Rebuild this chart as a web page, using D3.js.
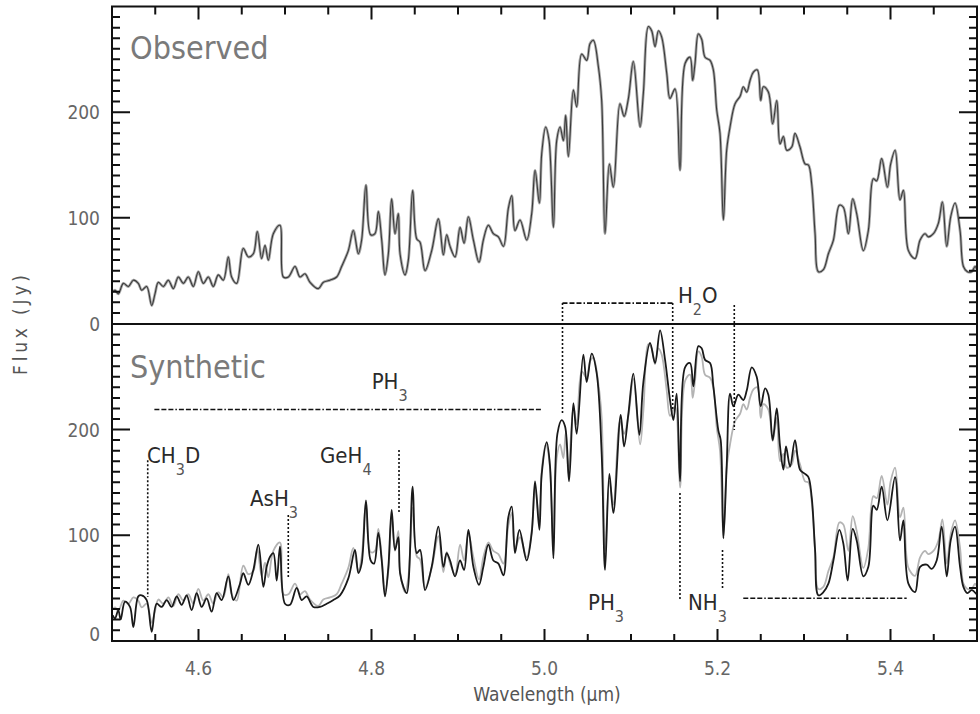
<!DOCTYPE html>
<html><head><meta charset="utf-8">
<script src="https://cdn.jsdelivr.net/npm/d3@7"></script>
<style>
html,body{margin:0;padding:0;background:#fff;}
svg text{font-family:"DejaVu Sans Condensed","DejaVu Sans",sans-serif;font-stretch:condensed;}
</style></head>
<body>
<svg id="chart" width="980" height="714"></svg>
<script>
// ---------- DATA ----------
const obsWave = [4.5010,4.5035,4.5073,4.5131,4.5189,4.5247,4.5304,4.5343,4.5401,4.5459,4.5497,4.5536,4.5593,4.5651,4.5709,4.5767,4.5825,4.5882,4.5940,4.5998,4.6056,4.6114,4.6171,4.6229,4.6287,4.6345,4.6383,4.6441,4.6518,4.6576,4.6634,4.6680,4.6730,4.6769,4.6807,4.6865,4.6942,4.6981,4.7039,4.7116,4.7173,4.7231,4.7289,4.7385,4.7443,4.7520,4.7597,4.7655,4.7732,4.7790,4.7848,4.7886,4.7936,4.7990,4.8040,4.8079,4.8118,4.8156,4.8195,4.8233,4.8272,4.8310,
4.8330,4.8388,4.8426,4.8476,4.8523,4.8561,4.8619,4.8696,4.8773,4.8831,4.8869,4.8908,4.8966,4.9024,4.9070,4.9120,4.9178,4.9243,4.9293,4.9351,4.9409,4.9467,4.9525,4.9582,4.9621,4.9659,4.9717,4.9794,4.9852,4.9891,4.9941,4.9968,5.0014,5.0053,5.0103,5.0141,5.0180,5.0218,5.0245,5.0276,5.0334,5.0372,5.0430,5.0488,5.0527,5.0565,5.0623,5.0661,5.0700,5.0750,5.0796,5.0873,5.0920,5.0970,5.1027,5.1105,5.1143,5.1201,5.1239,5.1278,5.1317,5.1355,5.1413,5.1451,5.1509,5.1567,
5.1625,5.1683,5.1713,5.1740,5.1779,5.1817,5.1856,5.1914,5.1952,5.1991,5.2029,5.2068,5.2106,5.2145,5.2203,5.2261,5.2299,5.2338,5.2376,5.2415,5.2461,5.2500,5.2530,5.2588,5.2638,5.2685,5.2723,5.2762,5.2800,5.2858,5.2896,5.2954,5.3012,5.3051,5.3089,5.3128,5.3166,5.3224,5.3282,5.3340,5.3409,5.3455,5.3513,5.3563,5.3609,5.3686,5.3744,5.3802,5.3841,5.3898,5.3964,5.4002,5.4053,5.4110,5.4149,5.4207,5.4284,5.4342,5.4399,5.4438,5.4496,5.4554,5.4600,5.4650,5.4696,5.4746,5.4804,5.4843,5.4889,5.4939,5.4977,5.4995];
const obsFlux = [30,31.5,28,38,35,41,38,31.5,35,17,28,39,35,41,33,44,38,44,35,49,38,44,35,46,41,63,44,38,71,63,66,87,61.5,74,60,85,93,44,44,54,44,47,39,33,39,41,44,54,69,88,66,79,131,84,85,106,79,46,66,118,85,104,
66,46,60,126,80,77,50,69,99,65,84,73,63,91,76,101,79,58,79,93,85,82,73,109,121,88,98,79,104,145,114,161,186,173,91,173,186,173,197,158,221,205,255,249,265,268,243,211,85,151,129,208,196,213,248,186,218,281,277,262,277,271,237,213,222,145,
246,252,230,246,274,269,252,249,240,202,180,98,164,186,208,215,224,219,230,238,240,211,224,219,189,211,170,177,164,167,180,167,151,150,132,85,49,51,66,79,112,110,85,118,104,69,88,137,135,156,129,151,164,117,126,69,61.5,79,85,82,85,95,115,73,101,114,88,54,49,49,54,52];

const synWave = [4.5010,4.5035,4.5073,4.5100,4.5150,4.5208,4.5247,4.5304,4.5343,4.5401,4.5459,4.5516,4.5574,4.5632,4.5690,4.5748,4.5805,4.5863,4.5921,4.5979,4.6037,4.6094,4.6152,4.6210,4.6268,4.6345,4.6403,4.6480,4.6518,4.6576,4.6634,4.6692,4.6750,4.6788,4.6827,4.6865,4.6904,4.6942,4.7000,4.7058,4.7135,4.7193,4.7250,4.7328,4.7405,4.7482,4.7559,4.7636,4.7732,4.7809,4.7848,4.7886,4.7936,4.7990,4.8029,4.8079,4.8118,4.8156,4.8195,4.8233,4.8272,4.8310,
4.8330,4.8369,4.8407,4.8476,4.8523,4.8561,4.8619,4.8696,4.8773,4.8831,4.8869,4.8908,4.8966,4.9024,4.9070,4.9120,4.9178,4.9243,4.9293,4.9351,4.9409,4.9467,4.9525,4.9582,4.9621,4.9659,4.9710,4.9794,4.9852,4.9891,4.9941,4.9968,5.0026,5.0064,5.0103,5.0149,5.0199,5.0238,5.0284,5.0334,5.0372,5.0449,5.0488,5.0546,5.0604,5.0661,5.0700,5.0750,5.0796,5.0881,5.0920,5.0970,5.1027,5.1097,5.1143,5.1220,5.1278,5.1336,5.1394,5.1451,5.1490,5.1528,5.1567,5.1625,5.1683,5.1721,
5.1779,5.1817,5.1856,5.1914,5.1952,5.2010,5.2037,5.2068,5.2106,5.2145,5.2184,5.2241,5.2299,5.2338,5.2396,5.2453,5.2500,5.2550,5.2588,5.2638,5.2685,5.2723,5.2762,5.2792,5.2839,5.2896,5.2954,5.3012,5.3051,5.3089,5.3128,5.3166,5.3224,5.3282,5.3340,5.3409,5.3455,5.3505,5.3563,5.3609,5.3686,5.3744,5.3802,5.3841,5.3898,5.3964,5.4053,5.4110,5.4149,5.4207,5.4284,5.4342,5.4419,5.4476,5.4534,5.4592,5.4650,5.4696,5.4746,5.4804,5.4843,5.4889,5.4939,5.4995];
const synFlux = [24,21,29,20,37,32,13,42,43,38.5,8.5,35,32,38.5,32,42,34,43,29,45,32,40,27.5,45,38.5,61,38.5,54,64,53,67,91,51,70,79.5,83,57,89,35,34,50,38.5,42,32,32,35,38.5,43,59,86,64,73,133,76,73,102,76,42,70,124,86,98,
64,51,45,146,83,86,48,70,108,70,83,76,61,76,67,105,70,53,70,91,76,73,62,117,127,83,105,76,102,151,105,158,188,165,78,196,209,203,151,225,196,271,245,272,253,177,67,158,121,214,184,215,253,195,245,282,263,294,266,228,209,234,151,259,263,241,
279,277,266,263,241,199,190,97,165,234,222,233,228,237,259,250,222,239,233,190,220,184,162,184,165,190,162,158,155,136,86,43,46,54,76,105,92,57,106,95,61,70,128,124,146,114,155,95,114,54,46,70,72,68,76,108,61,95,108,70,51,45,48,44];

const xTickLabels = ["4.6","4.8","5.0","5.2","5.4"];
const xMajorTicks = [4.6,4.8,5.0,5.2,5.4];
const yMajorTicks = [0,100,200];
const yTickLabels = ["0","100","200"];
const panelNames = ["Observed","Synthetic"];

// annotation labels: text parts ("s" = subscript), wavelength of left edge, baseline flux (synthetic-panel units)
const annoText = [
  [["CH",""],["3","s"],["D",""]],
  [["AsH",""],["3","s"]],
  [["GeH",""],["4","s"]],
  [["PH",""],["3","s"]],
  [["H",""],["2","s"],["O",""]],
  [["PH",""],["3","s"]],
  [["NH",""],["3","s"]]
];
const annoWave = [4.5405, 4.6596, 4.7405, 4.8002, 5.1543, 5.0503, 5.1659];
const annoFlux = [168, 128, 168, 238, 320, 29, 29];

// marker lines
const lineW1 = [4.5413, 4.7038, 4.8318, 4.5490, 5.0208, 5.0208, 5.1482, 5.2194, 5.1566, 5.2058, 5.2298];
const lineF1 = [171, 119, 180.6, 219, 215.6, 319.8, 319.8, 317.9, 139.9, 85.9, 40.2];
const lineW2 = [4.5413, 4.7038, 4.8318, 4.9980, 5.0208, 5.1482, 5.1482, 5.2194, 5.1566, 5.2058, 5.4187];
const lineF2 = [41.4, 59.4, 121, 219, 319.8, 319.8, 218.5, 199.5, 38.5, 48, 40.2];
const lineKind = ["dot","dot","dot","dashdot","dot","dashdot","dot","dot","dot","dot","dashdot"];

// ---------- LAYOUT ----------
const L = 112, R = 977, T = 6.5, M = 324, B = 641;
const svg = d3.select("#chart");
const x = d3.scaleLinear().domain([4.5, 5.5]).range([L, R]);
const yTop = d3.scaleLinear().domain([0, 300]).range([M - 0.5, T]);
const yBot = d3.scaleLinear().domain([0, 300]).range([B - 0.3, M]);

const defs = svg.append("defs");
defs.append("clipPath").attr("id","clipTop").append("rect").attr("x",L).attr("y",T).attr("width",R-L).attr("height",M-T);
defs.append("clipPath").attr("id","clipBot").append("rect").attr("x",L).attr("y",M).attr("width",R-L).attr("height",B-M);

const obs = obsWave.map((w,i)=>[w,obsFlux[i]]);
const syn = synWave.map((w,i)=>[w,synFlux[i]]);

const curve = d3.curveCatmullRom.alpha(0.5);
const lineTop = d3.line().curve(curve).x(d=>x(d[0])).y(d=>yTop(d[1]));
const lineBot = d3.line().curve(curve).x(d=>x(d[0])).y(d=>yBot(d[1]));
svg.append("path").datum(obs).attr("clip-path","url(#clipTop)").attr("d",lineTop)
   .attr("fill","none").attr("stroke","#a8a8a8").attr("stroke-width",2.8).attr("stroke-linejoin","round");
svg.append("path").datum(obs).attr("clip-path","url(#clipTop)").attr("d",lineTop)
   .attr("fill","none").attr("stroke","#3a3a3a").attr("stroke-width",1.1).attr("stroke-linejoin","round");
svg.append("path").datum(obs).attr("clip-path","url(#clipBot)").attr("d",lineBot)
   .attr("fill","none").attr("stroke","#b4b4b4").attr("stroke-width",1.8).attr("stroke-linejoin","round");
svg.append("path").datum(syn).attr("clip-path","url(#clipBot)").attr("d",lineBot)
   .attr("fill","none").attr("stroke","#1a1a1a").attr("stroke-width",1.8).attr("stroke-linejoin","round");

lineW1.forEach((w,i)=>{
  svg.append("line")
    .attr("x1",x(w)).attr("y1",yBot(lineF1[i]))
    .attr("x2",x(lineW2[i])).attr("y2",yBot(lineF2[i]))
    .attr("stroke","#111").attr("stroke-width",1.6)
    .attr("stroke-dasharray", lineKind[i]==="dot" ? "2,2" : "5,2,5,2,5,2,1.5,2");
});

annoText.forEach((parts,i)=>{
  const t = svg.append("text").attr("x",x(annoWave[i])).attr("y",yBot(annoFlux[i]))
     .attr("font-size",22).attr("fill","#2a2a2a");
  let shifted = false;
  parts.forEach(p=>{
    const ts = t.append("tspan").text(p[0]);
    if (p[1]==="s"){ ts.attr("font-size",16).attr("dy",12).attr("fill","#555"); shifted = true; }
    else if (shifted){ ts.attr("dy",-12); shifted = false; }
  });
});

// frame
svg.append("rect").attr("x",L).attr("y",T).attr("width",R-L).attr("height",B-T)
   .attr("fill","none").attr("stroke","#111").attr("stroke-width",2);
svg.append("line").attr("x1",L).attr("x2",R).attr("y1",M).attr("y2",M)
   .attr("stroke","#111").attr("stroke-width",2);

// ticks, built from the scales
const minorX = d3.range(4.55, 5.5, 0.05).map(v=>+v.toFixed(2)).filter(v=>!xMajorTicks.some(m=>Math.abs(m-v)<1e-6));
const minorY = d3.range(10, 300, 10).filter(v=>v%100!==0);
let tp = "";
function vT(vals, y0, len){ vals.forEach(d=>{ const px = x(d); tp += `M${px},${y0}V${y0+len}`; }); }
function hT(vals, ys, x0, len){ vals.forEach(d=>{ const py = ys(d); tp += `M${x0},${py}H${x0+len}`; }); }
vT(xMajorTicks, T, 13); vT(minorX, T, 8);
vT(xMajorTicks, B, -12); vT(minorX, B, -7);
[yTop, yBot].forEach(ys=>{
  hT([100,200], ys, L, 18); hT(minorY, ys, L, 8);
  hT([100,200], ys, R, -18); hT(minorY, ys, R, -8);
});
svg.append("path").attr("d",tp).attr("fill","none").attr("stroke","#111").attr("stroke-width",2);

// tick labels
svg.append("g").selectAll("text").data(xMajorTicks).join("text")
  .attr("x",d=>x(d)).attr("y",B+34).attr("text-anchor","middle")
  .attr("font-size",19).attr("fill","#666").text((d,i)=>xTickLabels[i]);
[[yTop,0],[yBot,-7]].forEach(([ys,zeroShift])=>{
  svg.append("g").selectAll("text").data(yMajorTicks).join("text")
    .attr("x",L-12).attr("y",d=>ys(d) + 7 + (d===0?zeroShift:0)).attr("text-anchor","end")
    .attr("font-size",19).attr("fill","#666").text((d,i)=>yTickLabels[i]);
});

svg.append("text").attr("x",130).attr("y",59).attr("font-size",32).attr("fill","#7a7a7a").text(panelNames[0]);
svg.append("text").attr("x",130).attr("y",378).attr("font-size",32).attr("fill","#7a7a7a").text(panelNames[1]);

svg.append("text").attr("x",547).attr("y",701).attr("text-anchor","middle").attr("font-size",19).attr("fill","#555")
   .text("Wavelength (μm)");
svg.append("text").attr("transform","translate(27,325) rotate(-90)").attr("text-anchor","middle")
   .attr("font-size",19).attr("fill","#555").attr("textLength",100).attr("lengthAdjust","spacing").text("Flux (Jy)");
</script>
</body></html>
